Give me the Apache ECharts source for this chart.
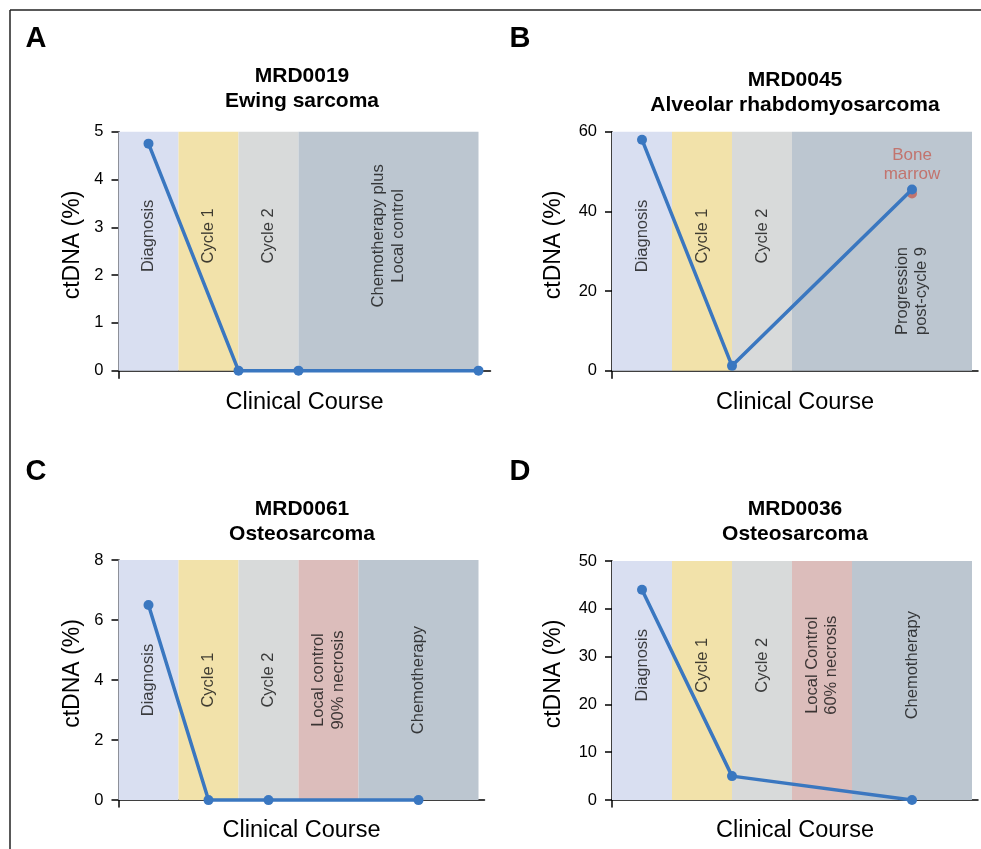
<!DOCTYPE html>
<html>
<head>
<meta charset="utf-8">
<script src="https://cdn.jsdelivr.net/npm/echarts@6/dist/echarts.min.js"></script>
<style>
  html, body { margin: 0; padding: 0; background: #fff; }
  #chart { width: 981px; height: 849px; }
</style>
</head>
<body>
<div id="chart"></div>
<script>
// A - MRD0019
const aTitle = 'MRD0019\nEwing sarcoma'
const aPhases = ['Diagnosis', 'Cycle 1', 'Cycle 2', 'Chemotherapy plus\nLocal control']
const aPhaseEdges = [0, 1, 2, 3, 6]
const aTimes = [0.5, 2, 3, 6]
const aCtdna = [4.75, 0, 0, 0]
const aTicks = [0, 1, 2, 3, 4, 5]

// B - MRD0045
const bTitle = 'MRD0045\nAlveolar rhabdomyosarcoma'
const bPhases = ['Diagnosis', 'Cycle 1', 'Cycle 2', 'Progression\npost-cycle 9']
const bPhaseEdges = [0, 1, 2, 3, 6]
const bTimes = [0.5, 2, 5]
const bCtdna = [58, 1.2, 45.5]
const bMarrowTimes = [5]
const bMarrowCtdna = [44.5]
const bMarrowLabel = 'Bone\nmarrow'
const bTicks = [0, 20, 40, 60]

// C - MRD0061
const cTitle = 'MRD0061\nOsteosarcoma'
const cPhases = ['Diagnosis', 'Cycle 1', 'Cycle 2', 'Local control\n90% necrosis', 'Chemotherapy']
const cPhaseEdges = [0, 1, 2, 3, 4, 6]
const cTimes = [0.5, 1.5, 2.5, 5]
const cCtdna = [6.5, 0, 0, 0]
const cTicks = [0, 2, 4, 6, 8]

// D - MRD0036
const dTitle = 'MRD0036\nOsteosarcoma'
const dPhases = ['Diagnosis', 'Cycle 1', 'Cycle 2', 'Local Control\n60% necrosis', 'Chemotherapy']
const dPhaseEdges = [0, 1, 2, 3, 4, 6]
const dTimes = [0.5, 2, 5]
const dCtdna = [44, 5, 0]
const dTicks = [0, 10, 20, 30, 40, 50]

const FONT = '"Liberation Sans", Arial, Helvetica, sans-serif'
const INK = '#000'
const BLUE = '#3a77c0'
const RED = '#c35f55'
const LAV = '#d9dff1', YEL = '#f2e2aa', GRY = '#d8dada', PINK = '#dcbdbb', SLATE = '#bcc6d0'

// layout per panel (pixels + where the phase labels sit)
const panels = [
  { letter: 'A', lx: 36, ly: 39, title: aTitle, tx: 302, ty: 89,
    phases: aPhases, edges: aPhaseEdges, times: aTimes, values: aCtdna, ticks: aTicks,
    colors: [LAV, YEL, GRY, SLATE],
    grid: { left: 118.5, top: 131.7, width: 372, height: 246.6 }, xMax: 6.2, yMin: -0.16,
    labelY: 2.82, labelX: {}, yGap: 34 },
  { letter: 'B', lx: 520, ly: 39, title: bTitle, tx: 795, ty: 93,
    phases: bPhases, edges: bPhaseEdges, times: bTimes, values: bCtdna, ticks: bTicks,
    colors: [LAV, YEL, GRY, SLATE],
    grid: { left: 612, top: 131.7, width: 366, height: 246.5 }, xMax: 6.1, yMin: -1.9,
    labelY: 33.8, labelX: { 3: [5, 20] }, yGap: 47 },
  { letter: 'C', lx: 36, ly: 472, title: cTitle, tx: 302, ty: 522,
    phases: cPhases, edges: cPhaseEdges, times: cTimes, values: cCtdna, ticks: cTicks,
    colors: [LAV, YEL, GRY, PINK, SLATE],
    grid: { left: 118.5, top: 560, width: 366, height: 247 }, xMax: 6.1, yMin: -0.23,
    labelY: 4, labelX: {}, yGap: 34 },
  { letter: 'D', lx: 520, ly: 472, title: dTitle, tx: 795, ty: 522,
    phases: dPhases, edges: dPhaseEdges, times: dTimes, values: dCtdna, ticks: dTicks,
    colors: [LAV, YEL, GRY, PINK, SLATE],
    grid: { left: 612, top: 561, width: 366, height: 246 }, xMax: 6.1, yMin: -1.46,
    labelY: 28.2, labelX: {}, yGap: 47 }
]

const option = {
  animation: false,
  backgroundColor: '#fff',
  grid: [], xAxis: [], yAxis: [], series: [],
  graphic: [
    { type: 'line', shape: { x1: 10, y1: 10, x2: 981, y2: 10 }, style: { stroke: '#222', lineWidth: 1.5 } },
    { type: 'line', shape: { x1: 10, y1: 10, x2: 10, y2: 849 }, style: { stroke: '#222', lineWidth: 1.5 } }
  ]
}

panels.forEach((p, i) => {
  const yMax = p.ticks[p.ticks.length - 1]
  option.grid.push(p.grid)
  option.xAxis.push({
    type: 'value', gridIndex: i, min: 0, max: p.xMax,
    axisLine: { show: true, onZero: true, lineStyle: { color: INK, width: 1.5 } },
    axisTick: { show: false }, axisLabel: { show: false }, splitLine: { show: false },
    name: 'Clinical Course', nameLocation: 'middle', nameGap: 12,
    nameTextStyle: { fontSize: 23.5, color: INK, fontFamily: FONT }
  })
  option.yAxis.push({
    type: 'value', gridIndex: i, min: p.yMin, max: yMax,
    axisLine: { show: true, onZero: false, lineStyle: { color: INK, width: 1.5 } },
    axisTick: { show: true, length: 7, customValues: p.ticks, lineStyle: { color: INK, width: 1.5 } },
    axisLabel: { customValues: p.ticks, fontSize: 16.5, margin: 15, color: INK, fontFamily: FONT },
    splitLine: { show: false },
    name: 'ctDNA (%)', nameLocation: 'middle', nameGap: p.yGap,
    nameTextStyle: { fontSize: 23, color: INK, fontFamily: FONT, padding: [0, 0, 0, 20] }
  })

  const bands = p.phases.map((ph, k) => [
    { xAxis: p.edges[k], yAxis: 0, itemStyle: { color: p.colors[k], opacity: 1 } },
    { xAxis: p.edges[k + 1], yAxis: yMax }
  ])

  option.series.push({
    type: 'line', xAxisIndex: i, yAxisIndex: i, z: 3,
    data: p.times.map((t, k) => [t, p.values[k]]),
    symbol: 'circle', symbolSize: 10,
    lineStyle: { color: BLUE, width: 3.5 }, itemStyle: { color: BLUE },
    markArea: { silent: true, data: bands }
  })

  option.series.push({
    type: 'scatter', xAxisIndex: i, yAxisIndex: i, z: 2, silent: true,
    symbolSize: 1, itemStyle: { color: 'transparent' },
    data: p.phases.map((ph, k) => {
      const pos = p.labelX[k] || [(p.edges[k] + p.edges[k + 1]) / 2, p.labelY]
      return { name: ph, value: pos }
    }),
    label: {
      show: true, position: 'inside', rotate: 90, formatter: '{b}',
      fontSize: 16.5, lineHeight: 19.5, color: '#111', fontFamily: FONT
    }
  })

  option.graphic.push(
    { type: 'text', x: p.lx, y: p.ly, style: { text: p.letter, font: 'bold 29px ' + FONT, fill: '#000',
      align: 'center', verticalAlign: 'middle', textAlign: 'center', textVerticalAlign: 'middle' } },
    { type: 'text', x: p.tx, y: p.ty, style: { text: p.title, font: 'bold 21px ' + FONT, fill: '#000', lineHeight: 25,
      align: 'center', verticalAlign: 'middle', textAlign: 'center', textVerticalAlign: 'middle' } }
  )
})

// bone marrow sample, panel B
option.series.push({
  type: 'scatter', xAxisIndex: 1, yAxisIndex: 1, z: 2.5,
  data: bMarrowTimes.map((t, k) => [t, bMarrowCtdna[k]]),
  symbol: 'circle', symbolSize: 10, itemStyle: { color: RED },
  label: {
    show: true, position: 'top', distance: 5, formatter: bMarrowLabel,
    fontSize: 17, lineHeight: 19, color: RED, fontFamily: FONT
  }
})

const chart = echarts.init(document.getElementById('chart'))
chart.setOption(option)
</script>
</body>
</html>
